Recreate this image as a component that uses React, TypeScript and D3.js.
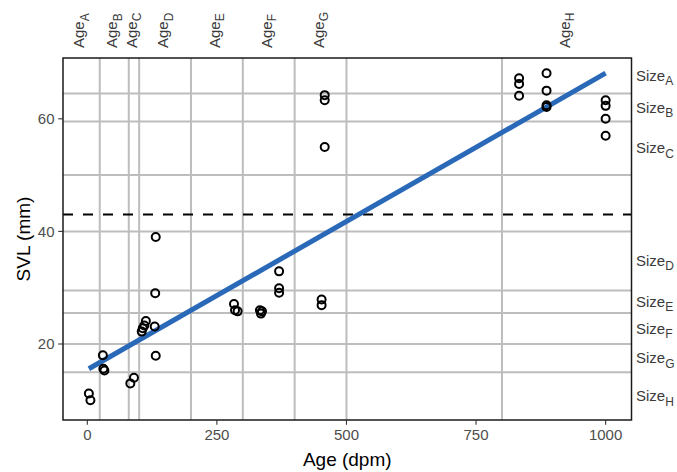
import React from 'react';
import * as d3 from 'd3';

// observed specimens
const ages = [3, 6, 30, 31, 33, 83, 90, 105, 107, 110, 113, 130, 131, 132, 132, 283, 285, 290, 333, 335, 337, 370, 370, 370, 452, 452, 458, 458, 458, 833, 833, 833, 886, 886, 886, 886, 1000, 1000, 1000, 1000];
const svl = [11.2, 10, 18, 15.6, 15.3, 13, 14, 22.2, 22.8, 23.3, 24.1, 23.1, 29, 39, 17.9, 27.1, 26, 25.8, 26, 25.4, 25.8, 32.9, 29.9, 29.1, 27.9, 26.9, 64.2, 63.3, 55, 67.2, 66.2, 64.1, 68.1, 65, 62.1, 62.4, 63.3, 62.3, 60, 57];

// fitted line end points
const fitAge = [3, 1000];
const fitSvl = [15.6, 68.1];

const threshold = 43;

// age class boundaries (vertical grey lines) and label intervals
const ageLines = [24, 80, 100, 200, 300, 400, 500, 800];
const ageNames = ['A', 'B', 'C', 'D', 'E', 'F', 'G', 'H'];
const ageFrom = [-46.9, 24, 80, 100, 200, 300, 400, 800];
const ageTo = [24, 80, 100, 200, 300, 400, 500, 1049.9];

// size class boundaries (horizontal grey lines) and label intervals
const sizeLines = [64.5, 59.5, 50, 40, 29.5, 25.5, 20, 15];
const sizeNames = ['A', 'B', 'C', 'D', 'E', 'F', 'G', 'H'];
const sizeTop = [70.8, 64.5, 59.5, 40, 29.5, 25.5, 20, 15];
const sizeBottom = [64.5, 59.5, 50, 29.5, 25.5, 20, 15, 6.5];

const xTicks = [0, 250, 500, 750, 1000];
const yTicks = [20, 40, 60];

const W = 677, H = 472;
const left = 63, right = 631.5, top = 58, bottom = 420;
const font = '"Liberation Sans", Arial, Helvetica, sans-serif';

const App = () => {
  const x = d3.scaleLinear().domain([-46.9, 1049.9]).range([left, right]);
  const y = d3.scaleLinear().domain([6.5, 70.8]).range([bottom, top]);
  const line = d3.line<number>().x((d, i) => x(fitAge[i])).y(d => y(d));

  return (
    <svg width={W} height={H} style={{ position: 'absolute', left: 0, top: 0, fontFamily: font }}>
      <rect x={0} y={0} width={W} height={H} fill="#fff" />
      {/* grey class lines */}
      {ageLines.map((a, i) => (
        <line key={'va' + i} x1={x(a)} x2={x(a)} y1={top} y2={bottom} stroke="#bdbdbd" strokeWidth={2} />
      ))}
      {sizeLines.map((s, i) => (
        <line key={'hs' + i} x1={left} x2={right} y1={y(s)} y2={y(s)} stroke="#bdbdbd" strokeWidth={2} />
      ))}
      {/* threshold */}
      <line x1={left} x2={right} y1={y(threshold)} y2={y(threshold)} stroke="#000" strokeWidth={2} strokeDasharray="10,10" />
      {/* fit */}
      <path d={line(fitSvl) || ''} fill="none" stroke="#2a69b8" strokeWidth={5} />
      {/* points */}
      {ages.map((a, i) => (
        <circle key={'p' + i} cx={x(a)} cy={y(svl[i])} r={4} fill="none" stroke="#000" strokeWidth={2} />
      ))}
      {/* panel border */}
      <rect x={left} y={top} width={right - left} height={bottom - top} fill="none" stroke="#1a1a1a" strokeWidth={1.5} />
      {/* bottom axis */}
      {xTicks.map(t => (
        <g key={'xt' + t}>
          <line x1={x(t)} x2={x(t)} y1={bottom} y2={bottom + 4.75} stroke="#333" strokeWidth={1.1} />
          <text x={x(t)} y={bottom + 19.5} textAnchor="middle" fontSize={15} fill="#4d4d4d">{t}</text>
        </g>
      ))}
      {/* left axis */}
      {yTicks.map(t => (
        <g key={'yt' + t}>
          <line x1={left - 4.75} x2={left} y1={y(t)} y2={y(t)} stroke="#333" strokeWidth={1.1} />
          <text x={left - 8.5} y={y(t) + 5.4} textAnchor="end" fontSize={15} fill="#4d4d4d">{t}</text>
        </g>
      ))}
      {/* top labels */}
      {ageNames.map((n, i) => {
        const cx = x((ageFrom[i] + ageTo[i]) / 2);
        return (
          <text key={'al' + n} transform={`translate(${cx + 3},48) rotate(-90)`} fontSize={15} fill="#3a3a3a">
            Age<tspan fontSize={12} dy={4.5}>{n}</tspan>
          </text>
        );
      })}
      {/* right labels */}
      {sizeNames.map((n, i) => {
        const cy = y((sizeTop[i] + sizeBottom[i]) / 2);
        return (
          <text key={'sl' + n} x={636} y={cy + 5} fontSize={15} fill="#3a3a3a">
            Size<tspan fontSize={12} dy={4.5}>{n}</tspan>
          </text>
        );
      })}
      {/* axis titles */}
      <text x={(left + right) / 2} y={466} textAnchor="middle" fontSize={19} fill="#000">Age (dpm)</text>
      <text transform={`translate(30,${(top + bottom) / 2}) rotate(-90)`} textAnchor="middle" fontSize={19} fill="#000">SVL (mm)</text>
    </svg>
  );
};

export default App;
